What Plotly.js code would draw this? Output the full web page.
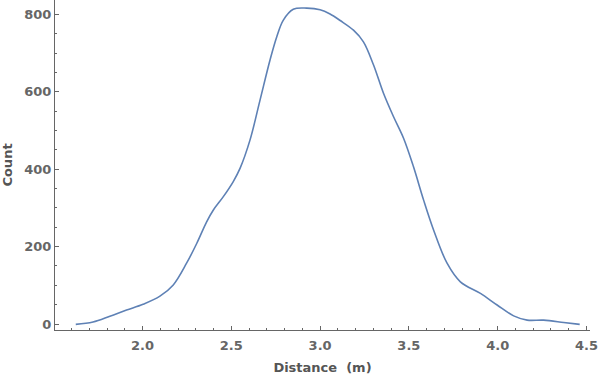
<!DOCTYPE html>
<html>
<head>
<meta charset="utf-8">
<script src="https://cdn.plot.ly/plotly-3.0.1.min.js"></script>
<style>html,body{margin:0;padding:0;background:#fff;}#chart{width:600px;height:375px;}</style>
</head>
<body>
<div id="chart"></div>
<script>
const distance = [1.624,1.721,1.816,1.910,2.003,2.098,2.173,2.248,2.305,2.361,2.398,2.455,2.511,2.549,2.605,2.662,2.718,2.756,2.793,2.849,2.925,3.000,3.056,3.113,3.188,3.244,3.301,3.357,3.413,3.470,3.526,3.583,3.639,3.715,3.790,3.903,3.997,4.090,4.166,4.259,4.372,4.462];
const count = [-1,5,20,36,51,72,101,157,208,264,294,329,368,402,475,579,682,742,785,813,816,812,801,784,759,729,669,596,536,480,406,320,243,157,109,79,49,21,10,10,4,-1];
const xTickVals = [2.0,2.5,3.0,3.5,4.0,4.5];
const xTickText = ["2.0","2.5","3.0","3.5","4.0","4.5"];
const yTickVals = [0,200,400,600,800];
const yTickText = ["0","200","400","600","800"];

const tickFont = {family:"DejaVu Sans", size:13, color:"#666666", weight:"bold"};
const titleFont = {family:"DejaVu Sans", size:13, color:"#555555", weight:"bold"};

Plotly.newPlot("chart", [{
  x: distance, y: count, type: "scatter", mode: "lines",
  line: {color:"#5E81B5", width:1.6, shape:"spline", smoothing:1.0},
  hoverinfo: "none"
}], {
  width: 600, height: 375,
  margin: {l:55, r:10, t:0, b:45},
  paper_bgcolor: "#ffffff", plot_bgcolor: "#ffffff",
  showlegend: false,
  xaxis: {
    range: [1.507, 4.52], showgrid:false, zeroline:false,
    showline:true, linecolor:"#666666", linewidth:1,
    tickmode:"array", tickvals:xTickVals, ticktext:xTickText,
    ticks:"inside", ticklen:4, tickcolor:"#666666",
    minor:{ticks:"inside", ticklen:2, dtick:0.1, tick0:0, tickcolor:"#666666", showgrid:false},
    tickfont: tickFont, ticklabelstandoff: 3,
    title:{text:"Distance  (m)", font:titleFont, standoff:11}
  },
  yaxis: {
    range: [-15.5, 837], showgrid:false, zeroline:false,
    showline:true, linecolor:"#666666", linewidth:1,
    tickmode:"array", tickvals:yTickVals, ticktext:yTickText,
    ticks:"inside", ticklen:4, tickcolor:"#666666",
    minor:{ticks:"inside", ticklen:2, dtick:50, tick0:0, tickcolor:"#666666", showgrid:false},
    tickfont: tickFont,
    title:{text:"Count", font:titleFont, standoff:8}
  }
}, {staticPlot:true});
</script>
</body>
</html>
